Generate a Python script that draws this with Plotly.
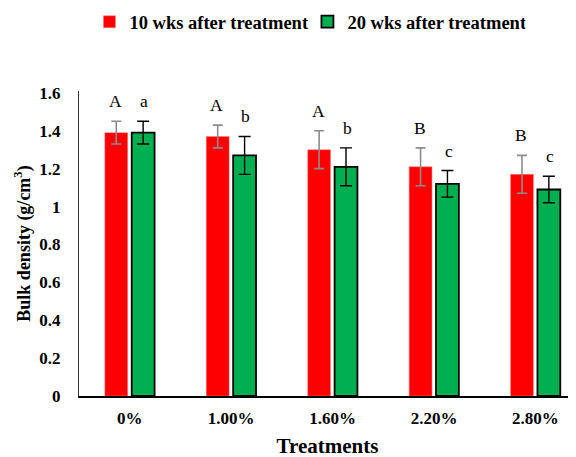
import plotly.graph_objects as go

categories = ["0%", "1.00%", "1.60%", "2.20%", "2.80%"]
wk10 = [1.39, 1.37, 1.30, 1.21, 1.17]
wk10_err = [0.06, 0.06, 0.10, 0.10, 0.10]
wk20 = [1.39, 1.27, 1.21, 1.12, 1.09]
wk20_err = [0.06, 0.10, 0.10, 0.07, 0.07]
wk10_letters = ["A", "A", "A", "B", "B"]
wk20_letters = ["a", "b", "b", "c", "c"]
ytick_vals = [0, 0.2, 0.4, 0.6, 0.8, 1.0, 1.2, 1.4, 1.6]
ytick_text = ["0", "0.2", "0.4", "0.6", "0.8", "1", "1.2", "1.4", "1.6"]

FONT = "Liberation Serif"

fig = go.Figure()
fig.add_trace(go.Bar(
    x=categories, y=wk10, name="10 wks after treatment",
    marker=dict(color="#FF0000", line=dict(color="#FF8080", width=0.5)),
    error_y=dict(type="data", array=wk10_err, color="#8C8C8C", thickness=1.6, width=5),
))
fig.add_trace(go.Bar(
    x=categories, y=wk20, name="20 wks after treatment",
    marker=dict(color="#00B050", line=dict(color="#000000", width=1.8)),
    error_y=dict(type="data", array=wk20_err, color="#000000", thickness=1.4, width=6),
))

for i, c in enumerate(categories):
    fig.add_annotation(x=c, y=wk10[i] + wk10_err[i], text=wk10_letters[i],
                       xref="x", yref="y", showarrow=False, xshift=-14.5, yshift=20,
                       yanchor="middle", font=dict(family=FONT, size=17.5, color="#000"))
    fig.add_annotation(x=c, y=wk20[i] + wk20_err[i], text=wk20_letters[i],
                       xref="x", yref="y", showarrow=False, xshift=14.5, yshift=20,
                       yanchor="middle", font=dict(family=FONT, size=17.5, color="#000"))

fig.update_layout(
    width=568, height=457,
    margin=dict(l=71, r=0, t=83, b=69),
    paper_bgcolor="white", plot_bgcolor="white",
    barmode="group", bargap=0.47, bargroupgap=0.15,
    font=dict(family=FONT, color="#000"),
    showlegend=True,
    legend=dict(orientation="h", x=0.021, xanchor="left", y=0.969, yref="container",
                yanchor="middle", font=dict(family=FONT, size=18.5, color="#000", weight="bold"),
                itemwidth=30, traceorder="normal", entrywidth=173),
    xaxis=dict(range=[-0.5, 4.4], showline=True, linecolor="#000", linewidth=1.5,
               ticks="", showgrid=False, ticklabelstandoff=6,
               tickfont=dict(family=FONT, size=17, color="#000", weight="bold"),
               title=dict(text="Treatments", standoff=11,
                          font=dict(family=FONT, size=21, color="#000", weight="bold"))),
    yaxis=dict(range=[0, 1.61], showline=True, linecolor="#333", linewidth=1,
               ticks="", showgrid=False, zeroline=False, ticklabelstandoff=14,
               tickvals=ytick_vals, ticktext=ytick_text,
               tickfont=dict(family=FONT, size=17, color="#000", weight="bold"),
               title=dict(text="Bulk density (g/cm<sup>3</sup>)", standoff=4,
                          font=dict(family=FONT, size=18, color="#000", weight="bold"))),
)

fig.write_html("out.html")
